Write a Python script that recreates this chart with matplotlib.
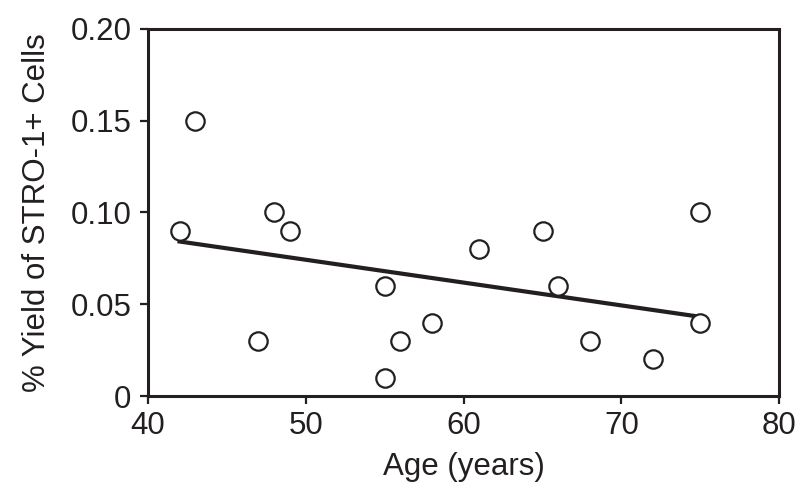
import numpy as np
import matplotlib
matplotlib.use("Agg")
import matplotlib.pyplot as plt

plt.rcParams["font.family"] = ["Liberation Sans", "DejaVu Sans"]

# Age (years) and % yield of STRO-1+ cells
age = [42, 43, 47, 48, 49, 55, 55, 56, 58, 61, 65, 66, 68, 72, 75, 75]
yield_pct = [0.09, 0.15, 0.03, 0.10, 0.09, 0.06, 0.01, 0.03, 0.04, 0.08,
             0.09, 0.06, 0.03, 0.02, 0.10, 0.04]

x_ticks = [40, 50, 60, 70, 80]
y_ticks = [0, 0.05, 0.10, 0.15, 0.20]
y_tick_labels = ["0", "0.05", "0.10", "0.15", "0.20"]

ink = "#231f20"

fig = plt.figure(figsize=(8, 4.99), dpi=100)
ax = fig.add_axes([0.185, 0.2064, 0.789, 0.7355])

ax.scatter(age, yield_pct, s=175, facecolors="white", edgecolors=ink,
           linewidths=1.6, zorder=3)

# linear fit over the data range
slope, icpt = np.polyfit(age, yield_pct, 1)
xs = np.array([min(age), max(age)])
ax.plot(xs, slope * xs + icpt, color=ink, lw=3.0, zorder=2)

ax.set_xlim(40, 80)
ax.set_ylim(0, 0.20)
ax.set_xticks(x_ticks)
ax.set_yticks(y_ticks)
ax.set_yticklabels(y_tick_labels)

for s in ax.spines.values():
    s.set_linewidth(2.2)
    s.set_color(ink)
ax.tick_params(direction="out", length=6, width=1.6, colors=ink,
               labelsize=22.5)
ax.tick_params(axis="y", pad=6)
ax.tick_params(axis="x", pad=5)

ax.set_xlabel("Age (years)", fontsize=22.5, color=ink, labelpad=8)
ax.set_ylabel("% Yield of STRO-1+ Cells", fontsize=22.5, color=ink, labelpad=13)

fig.savefig("out.png", dpi=100)
